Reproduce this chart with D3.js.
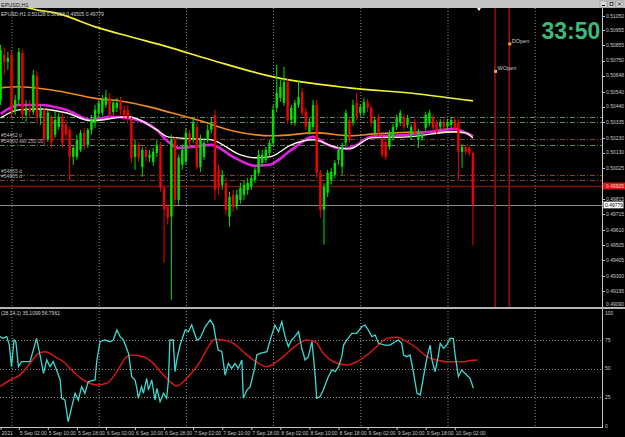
<!DOCTYPE html>
<html>
<head>
<meta charset="utf-8">
<script src="https://cdn.jsdelivr.net/npm/d3@7/dist/d3.min.js"></script>
<style>
  html, body { margin: 0; padding: 0; background: #000; }
  svg { display: block; font-family: "Liberation Sans", Arial, sans-serif; }
</style>
</head>
<body>
<div id="chart"></div>
<script>
// ---- data ----
const symbolTitle = "EPUSD,H1";
const infoText = "EPUSD,H1  0.50128 0.50138 0.49505 0.49779";
const stochText = "(28,14,1) 35.1099 56.7961";
const timerText = "33:50";

// hourly bars, first bar is at hour -3 (hours after 5 Sep 00:00); [open, high, low, close]
const firstHour = -3;
const candles = [
  [0.50485,0.50855,0.50451,0.50822],[0.50788,0.50835,0.50653,0.50741],[0.50741,0.50808,0.50687,0.50768],
  [0.50788,0.50822,0.50364,0.50404],[0.50418,0.50519,0.50384,0.50485],[0.50485,0.50835,0.50451,0.50808],
  [0.50801,0.50822,0.50350,0.50384],[0.50384,0.50485,0.50337,0.50431],[0.50431,0.50485,0.50364,0.50404],
  [0.50404,0.50687,0.50384,0.50653],[0.50647,0.50673,0.50337,0.50364],[0.50364,0.50451,0.50317,0.50418],
  [0.50418,0.50431,0.50182,0.50216],[0.50216,0.50418,0.50202,0.50398],[0.50364,0.50384,0.50162,0.50196],
  [0.50250,0.50404,0.50229,0.50350],[0.50303,0.50398,0.50283,0.50371],[0.50371,0.50398,0.50162,0.50196],
  [0.50317,0.50350,0.50216,0.50250],[0.50283,0.50303,0.49946,0.50101],[0.50101,0.50182,0.50048,0.50162],
  [0.50101,0.50250,0.50081,0.50216],[0.50148,0.50283,0.50135,0.50263],[0.50263,0.50297,0.50148,0.50182],
  [0.50182,0.50297,0.50162,0.50283],[0.50283,0.50384,0.50250,0.50350],[0.50330,0.50451,0.50297,0.50418],
  [0.50398,0.50485,0.50364,0.50465],[0.50398,0.50519,0.50377,0.50485],[0.50451,0.50552,0.50431,0.50505],
  [0.50498,0.50532,0.50364,0.50384],[0.50404,0.50485,0.50384,0.50465],[0.50431,0.50498,0.50404,0.50465],
  [0.50485,0.50505,0.50384,0.50418],[0.50418,0.50451,0.50350,0.50384],[0.50418,0.50451,0.50337,0.50364],
  [0.50350,0.50371,0.50061,0.50095],[0.50101,0.50216,0.50014,0.50182],[0.50182,0.50202,0.50068,0.50095],
  [0.50034,0.50169,0.49967,0.50148],[0.50148,0.50169,0.50068,0.50101],[0.50095,0.50148,0.50068,0.50115],
  [0.50068,0.50162,0.50041,0.50135],[0.50128,0.50216,0.50101,0.50182],[0.50182,0.50202,0.49866,0.49893],
  [0.49893,0.49913,0.49388,0.49745],[0.49765,0.49785,0.49644,0.49691],[0.49698,0.50250,0.49139,0.50216],
  [0.50216,0.50236,0.49765,0.49812],[0.49812,0.50115,0.49778,0.50095],[0.50048,0.50182,0.50014,0.50148],
  [0.50068,0.50297,0.50048,0.50263],[0.50263,0.50283,0.50162,0.50196],[0.50216,0.50364,0.50196,0.50330],
  [0.50303,0.50330,0.50014,0.50034],[0.50034,0.50250,0.50000,0.50216],[0.50101,0.50229,0.50081,0.50196],
  [0.50216,0.50317,0.50196,0.50283],[0.50283,0.50364,0.50263,0.50330],[0.50384,0.50418,0.49812,0.49879],
  [0.50014,0.50048,0.49846,0.49900],[0.49913,0.50014,0.49879,0.49980],[0.49926,0.49960,0.49711,0.49745],
  [0.49698,0.49866,0.49630,0.49832],[0.49846,0.49879,0.49731,0.49765],[0.49778,0.49879,0.49745,0.49846],
  [0.49812,0.49926,0.49785,0.49893],[0.49846,0.49946,0.49812,0.49913],[0.49879,0.49960,0.49846,0.49926],
  [0.49900,0.49980,0.49879,0.49960],[0.49946,0.50034,0.49926,0.50014],[0.49994,0.50148,0.49974,0.50115],
  [0.50061,0.50148,0.50041,0.50115],[0.50081,0.50169,0.50061,0.50148],[0.50128,0.50216,0.50108,0.50196],
  [0.50196,0.50451,0.50175,0.50418],[0.50431,0.50721,0.50404,0.50532],[0.50498,0.50620,0.50472,0.50572],
  [0.50465,0.50707,0.50445,0.50606],[0.50606,0.50633,0.50323,0.50350],[0.50350,0.50451,0.50317,0.50431],
  [0.50330,0.50485,0.50310,0.50465],[0.50451,0.50620,0.50431,0.50505],[0.50539,0.50566,0.50377,0.50398],
  [0.50404,0.50431,0.50283,0.50303],[0.50270,0.50364,0.50250,0.50337],[0.50303,0.50485,0.50283,0.50451],
  [0.50451,0.50485,0.49960,0.49994],[0.49994,0.50014,0.49691,0.49745],[0.49745,0.49926,0.49509,0.49900],
  [0.49859,0.50014,0.49832,0.49994],[0.49946,0.50028,0.49913,0.50000],[0.49980,0.50081,0.49960,0.50061],
  [0.50081,0.50169,0.50048,0.50148],[0.50034,0.50196,0.49980,0.50169],[0.50196,0.50418,0.50169,0.50398],
  [0.50350,0.50371,0.50196,0.50216],[0.50337,0.50485,0.50310,0.50451],[0.50465,0.50532,0.50350,0.50371],
  [0.50398,0.50458,0.50377,0.50438],[0.50398,0.50498,0.50377,0.50472],[0.50472,0.50492,0.50404,0.50431],
  [0.50431,0.50451,0.50303,0.50330],[0.50263,0.50371,0.50243,0.50350],[0.50371,0.50391,0.50236,0.50263],
  [0.50216,0.50236,0.50095,0.50115],[0.50202,0.50229,0.50081,0.50101],[0.50169,0.50283,0.50148,0.50263],
  [0.50229,0.50323,0.50209,0.50303],[0.50303,0.50384,0.50283,0.50364],[0.50330,0.50418,0.50310,0.50398],
  [0.50371,0.50391,0.50283,0.50303],[0.50317,0.50384,0.50297,0.50364],[0.50236,0.50323,0.50216,0.50303],
  [0.50337,0.50357,0.50250,0.50270],[0.50216,0.50290,0.50162,0.50270],[0.50229,0.50270,0.50209,0.50250],
  [0.50297,0.50404,0.50276,0.50384],[0.50330,0.50418,0.50310,0.50398],[0.50364,0.50384,0.50276,0.50297],
  [0.50330,0.50350,0.50250,0.50270],[0.50303,0.50357,0.50283,0.50337],[0.50337,0.50357,0.50283,0.50303],
  [0.50303,0.50357,0.50283,0.50337],[0.50317,0.50371,0.50297,0.50350],[0.50350,0.50371,0.50276,0.50297],
  [0.50337,0.50357,0.49946,0.50135],[0.50135,0.50189,0.50028,0.50169],[0.50169,0.50182,0.50115,0.50135],
  [0.50162,0.50175,0.50108,0.50128],[0.50128,0.50138,0.49505,0.49779]
];

// moving averages, [hour, price] read at turning points
const maYellow = [[-3,0.51158],[7,0.51091],[12,0.51071],[24,0.50970],[33,0.50909],[43,0.50842],
  [55,0.50754],[72,0.50640],[93,0.50566],[112,0.50525],[127,0.50478]];
const maOrange = [[-3,0.50566],[2,0.50573],[11,0.50552],[24,0.50492],[30,0.50478],[38,0.50438],
  [44,0.50398],[52,0.50344],[61,0.50276],[72,0.50243],[84,0.50263],[93,0.50243],[100,0.50256],
  [118,0.50270],[125,0.50263],[127,0.50243]];
const maMagenta = [[-3,0.50391],[2,0.50451],[8,0.50451],[15,0.50418],[22,0.50350],[27,0.50371],
  [32,0.50364],[40,0.50283],[42,0.50229],[46,0.50162],[50,0.50169],[55,0.50182],[61,0.50101],
  [67,0.50041],[71,0.50048],[77,0.50148],[83,0.50236],[86,0.50196],[91,0.50155],[94,0.50169],
  [99,0.50236],[109,0.50250],[115,0.50270],[122,0.50290],[125,0.50263],[127,0.50236]];
const maWhite = [[-3,0.50364],[2,0.50418],[8,0.50424],[15,0.50398],[22,0.50344],[32,0.50371],
  [40,0.50283],[43,0.50236],[50,0.50223],[55,0.50216],[63,0.50115],[67,0.50095],[71,0.50101],
  [77,0.50182],[83,0.50216],[89,0.50169],[93,0.50155],[99,0.50229],[109,0.50236],[122,0.50270],
  [125,0.50263],[127,0.50229]];

// horizontal order / level lines
const levelPrices = [0.50371, 0.50337, 0.50223, 0.50182, 0.49980, 0.49946];
const levelKinds  = ["open", "open", "stop", "open", "stop", "stop"];
const levelTexts  = ["", "", "#54462 d", "#54900 sell 250.00", "#54865 d", "#54905 d"];
const alertPrice = 0.49905;
const bidPrice = 0.49779;

// week / day open markers
const openMarks = [
  { name: "WOpen", hour: 133.1, price: 0.50677 },
  { name: "DOpen", hour: 137.0, price: 0.50862 }
];

// axes
const priceTicks = [0.51050,0.50955,0.50855,0.50750,0.50648,0.50540,0.50440,0.50335,0.50230,
  0.50130,0.50025,0.49815,0.49715,0.49610,0.49505,0.49405,0.49300,0.49195,0.49090];
const stochTicks = [100, 75, 50, 25, 0];
const stochLevels = [75, 50, 25];
const dayHours = [0, 24, 48, 72, 96, 120, 144];
const timeLabelHours = [-3, 2, 10, 18, 26, 34, 42, 50, 58, 66, 74, 82, 90, 98, 106, 114, 122];
const timeLabels = ["2021", "5 Sep 02:00", "5 Sep 10:00", "5 Sep 18:00", "6 Sep 02:00", "6 Sep 10:00",
  "6 Sep 18:00", "7 Sep 02:00", "7 Sep 10:00", "7 Sep 18:00", "8 Sep 02:00", "8 Sep 10:00",
  "8 Sep 18:00", "9 Sep 02:00", "9 Sep 10:00", "9 Sep 18:00", "10 Sep 02:00"];

// stochastic, [hour, value]
const stochMain = [[-3.2,77.7],[-2.3,76.2],[-1.3,77.7],[-0.6,70.4],[0,51.6],[0.7,74.8],[1.2,73.3],
  [1.9,51.6],[2.8,55.9],[5.1,55.9],[6.9,76.2],[8.3,54.5],[8.8,45.8],[9.7,57.4],[10.6,51.6],[11.5,55.9],
  [12.4,48.7],[13.4,40],[13.8,24.1],[14.7,22.6],[15.6,3.7],[16.6,16.8],[17.5,28.4],[18.4,22.6],
  [19.3,34.2],[20.2,28.4],[21.1,38.5],[23,40],[23.5,57.4],[24.4,73.3],[25.7,74.8],[27.1,73.3],[28,74.8],
  [29,83.5],[29.9,77.7],[30.8,74.8],[32.2,63.2],[33.1,42.9],[34,40],[34.5,32.8],[34.9,24.1],[35.8,34.2],
  [36.3,28.4],[37.2,41.4],[37.7,31.3],[38.6,40],[39.5,22.6],[40,32.8],[40.9,21.2],[41.8,28.4],
  [42.7,24.1],[43.2,40],[43.6,74.8],[44.5,74.8],[45,47.2],[45.5,57.4],[46.4,70.4],[47.8,83.5],[48.7,82],
  [49.6,87.8],[51,74.8],[51.9,76.2],[53.3,86.3],[54.7,92.2],[55.6,87.8],[56.3,74.8],[56.9,66.1],
  [57.9,64.6],[58.8,44.3],[59.7,54.5],[60.6,50.1],[61.5,54.5],[62.4,50.1],[63.4,57.4],[63.8,24.1],
  [64.8,31.3],[65.7,34.2],[67,51.6],[67.5,61.7],[68.4,63.2],[70.3,64.6],[71.2,74.8],[72.5,87.8],
  [73.5,82],[74.4,90.7],[75.3,77.7],[76.2,69],[77.1,74.8],[78,77.7],[79,82],[79.9,67.6],[80.8,57.4],
  [81.7,60.3],[82.7,73.3],[83.1,60.3],[83.6,42.9],[84,24.1],[84.9,25.5],[85.8,31.3],[87.2,42.9],
  [88.2,48.7],[89.1,47.2],[90,51.6],[90.9,60.3],[91.4,70.4],[92.3,74.8],[93.7,80.6],[95,80.6],
  [96.4,86.3],[97.3,87.8],[98.2,83.5],[99.2,77.7],[100.1,79.1],[101,71.9],[102.8,70.4],[104.2,70.4],
  [105.6,73.3],[106.5,74.8],[107.4,71.9],[107.9,61.7],[108.8,60.3],[109.7,61.7],[110.6,47.2],
  [111.6,28.4],[112.5,27],[113.4,42.9],[114.3,58.9],[115.2,70.4],[115.7,57.4],[116.6,47.2],[117.5,61.7],
  [118,71.9],[118.9,67.6],[119.8,70.4],[120.7,76.2],[121.6,76.2],[122.1,61.7],[123,42.9],[123.9,48.7],
  [125.3,44.3],[126.2,41.4],[127.1,33]];
const stochSignal = [[-3.2,34.2],[-0.4,40],[2.3,44.3],[5.1,54.5],[7.4,63.2],[9.2,64.6],[12,60.3],
  [14.3,55.9],[17,47.2],[19.8,40],[23.5,35.7],[26.2,37.1],[29,47.2],[31.3,58.9],[33.1,61.7],[36.3,60.3],
  [39,54.5],[41.8,44.3],[43.6,38.5],[45.5,34.8],[48.2,41.4],[51.9,56],[54,68],[56,75.4],[58.3,74.8],
  [61.1,71.9],[63.8,64.6],[66.6,57.4],[70.3,51.6],[73,55.9],[75.8,63.2],[78.5,70.4],[81.3,74.8],
  [83.6,73.3],[85.8,63.2],[88.6,55.9],[92.3,53],[95,55.9],[97.8,61.7],[100.5,69],[103.3,76.2],
  [106.1,77.1],[108.8,73.3],[111.6,67.6],[114.3,60.3],[117.1,57.4],[119.8,55.9],[122.6,55.9],
  [124.4,55.9],[125.8,56.8],[128.3,57.4]];

// ---- layout ----
const width = 625, height = 437;
const chartRight = 602, titleH = 8, mainBottom = 307, subTop = 309, subBottom = 427;

const svg = d3.select("#chart").append("svg")
  .attr("width", width).attr("height", height);

svg.append("rect").attr("width", width).attr("height", height).attr("fill", "#000");

const x = d3.scaleLinear().domain([0, 24]).range([11.5, 98.7]);
const y = d3.scaleLinear().domain([0.49090, 0.51050]).range([307, 16]);
const ys = d3.scaleLinear().domain([0, 100]).range([426, 311]);

const defs = svg.append("defs");
defs.append("clipPath").attr("id", "clipMain").append("rect")
  .attr("x", 0).attr("y", titleH).attr("width", chartRight).attr("height", mainBottom - titleH);
defs.append("clipPath").attr("id", "clipSub").append("rect")
  .attr("x", 0).attr("y", subTop).attr("width", chartRight).attr("height", subBottom - subTop);

const main = svg.append("g").attr("clip-path", "url(#clipMain)");
const sub = svg.append("g").attr("clip-path", "url(#clipSub)");

// day separators (dotted)
[main, sub].forEach(g => {
  g.selectAll(".vgrid").data(dayHours).enter().append("line")
    .attr("x1", d => x(d) + 0.5).attr("x2", d => x(d) + 0.5)
    .attr("y1", titleH).attr("y2", subBottom)
    .attr("stroke", "#8a8a8a").attr("stroke-width", 1).attr("stroke-dasharray", "1,2");
});

// level lines
const levelColor = { open: "#5e8a5e", stop: "#8a3a3a" };
main.selectAll(".level").data(levelPrices).enter().append("line")
  .attr("x1", 0).attr("x2", chartRight)
  .attr("y1", d => Math.round(y(d)) + 0.5).attr("y2", d => Math.round(y(d)) + 0.5)
  .attr("stroke", (d, i) => levelColor[levelKinds[i]])
  .attr("stroke-width", 1).attr("stroke-dasharray", "5,2,1,2");

main.selectAll(".levelText").data(levelPrices).enter().append("text")
  .attr("x", 1).attr("y", d => y(d) - 1.5)
  .attr("font-size", 5).attr("fill", "#b8b8b8")
  .text((d, i) => levelTexts[i]);

main.append("line").attr("x1", 0).attr("x2", chartRight)
  .attr("y1", Math.round(y(alertPrice)) + 0.5).attr("y2", Math.round(y(alertPrice)) + 0.5)
  .attr("stroke", "#7a1010").attr("stroke-width", 1.5);
main.append("line").attr("x1", 0).attr("x2", chartRight)
  .attr("y1", Math.round(y(bidPrice)) + 0.5).attr("y2", Math.round(y(bidPrice)) + 0.5)
  .attr("stroke", "#8c8c8c").attr("stroke-width", 1);

// moving averages
const maLine = d3.line().x(d => x(d[0])).y(d => y(d[1])).curve(d3.curveMonotoneX);
[[maYellow, "#f2f230", 1.6], [maOrange, "#f08a1c", 1.6], [maMagenta, "#e020e0", 2.6], [maWhite, "#fff4e6", 1.4]]
  .forEach(([data, color, w]) => {
    main.append("path").datum(data).attr("d", maLine)
      .attr("fill", "none").attr("stroke", color).attr("stroke-width", w);
  });

// candles
const bodyW = 2.4;
const bars = main.selectAll(".bar").data(candles).enter().append("g");
bars.append("line")
  .attr("x1", (d, i) => x(firstHour + i)).attr("x2", (d, i) => x(firstHour + i))
  .attr("y1", d => y(d[1])).attr("y2", d => y(d[2]))
  .attr("stroke", d => d[3] >= d[0] ? "#00e000" : "#f00000").attr("stroke-width", 1);
bars.append("rect")
  .attr("x", (d, i) => x(firstHour + i) - bodyW / 2)
  .attr("y", d => y(Math.max(d[0], d[3])))
  .attr("width", bodyW)
  .attr("height", d => Math.max(1, Math.abs(y(d[0]) - y(d[3]))))
  .attr("fill", d => d[3] >= d[0] ? "#00e000" : "#f00000");

// week/day open verticals and markers
main.selectAll(".openLine").data(openMarks).enter().append("line")
  .attr("x1", d => x(d.hour)).attr("x2", d => x(d.hour))
  .attr("y1", titleH).attr("y2", mainBottom)
  .attr("stroke", "#a01010").attr("stroke-width", 1.5);
main.selectAll(".openDot").data(openMarks).enter().append("rect")
  .attr("x", d => x(d.hour) - 1).attr("y", d => y(d.price) - 1.5)
  .attr("width", 3).attr("height", 3).attr("fill", "#f5a623");
main.selectAll(".openText").data(openMarks).enter().append("text")
  .attr("x", d => x(d.hour) + 2.5).attr("y", d => y(d.price) - 1)
  .attr("font-size", 5.5).attr("fill", "#c8c8c8").text(d => d.name);

// chart shift marker
main.append("path").attr("d", "M477,8 L481,8 L479,11 Z").attr("fill", "#fff");

// info texts
main.append("text").attr("x", 1).attr("y", 15.5).attr("font-size", 5).attr("fill", "#d0d0d0").text(infoText);
svg.append("text").attr("x", 541.5).attr("y", 38.5).attr("font-size", 23).attr("font-weight", "bold")
  .attr("fill", "#3cb878").text(timerText);

// price axis
const axisG = svg.append("g");
axisG.append("line").attr("x1", chartRight + 0.5).attr("x2", chartRight + 0.5)
  .attr("y1", titleH).attr("y2", subBottom).attr("stroke", "#c8c8c8");
axisG.selectAll(".pt").data(priceTicks).enter().append("line")
  .attr("x1", chartRight).attr("x2", chartRight + 3)
  .attr("y1", d => Math.round(y(d)) + 0.5).attr("y2", d => Math.round(y(d)) + 0.5)
  .attr("stroke", "#c8c8c8");
axisG.selectAll(".ptl").data(priceTicks).enter().append("text")
  .attr("x", chartRight + 4).attr("y", d => Math.min(y(d), 304) + 1.8)
  .attr("font-size", 5).attr("fill", "#c8c8c8").text(d => d.toFixed(5));

axisG.append("rect").attr("x", chartRight + 1).attr("y", y(alertPrice) - 3.5)
  .attr("width", 22).attr("height", 7).attr("fill", "#e01010");
axisG.append("text").attr("x", chartRight + 4).attr("y", y(alertPrice) + 1.8)
  .attr("font-size", 5).attr("fill", "#ffd0d0").text(alertPrice.toFixed(5));
axisG.append("rect").attr("x", chartRight + 1.5).attr("y", y(bidPrice) - 3)
  .attr("width", 20).attr("height", 6.5).attr("fill", "#fff").attr("stroke", "#888").attr("stroke-width", 0.5);
axisG.append("text").attr("x", chartRight + 3).attr("y", y(bidPrice) + 2)
  .attr("font-size", 5).attr("fill", "#000").text(bidPrice.toFixed(5));

// pane separator
svg.append("rect").attr("x", 0).attr("y", mainBottom).attr("width", width).attr("height", 2).attr("fill", "#b4b4b4");

// stochastic pane
sub.selectAll(".lvl").data(stochLevels).enter().append("line")
  .attr("x1", 0).attr("x2", chartRight)
  .attr("y1", d => Math.round(ys(d)) + 0.5).attr("y2", d => Math.round(ys(d)) + 0.5)
  .attr("stroke", "#8a8a8a").attr("stroke-dasharray", "1,2");
const stLine = d3.line().x(d => x(d[0])).y(d => ys(d[1]));
sub.append("path").datum(stochSignal).attr("d", stLine.curve(d3.curveMonotoneX))
  .attr("fill", "none").attr("stroke", "#d01818").attr("stroke-width", 1.5);
sub.append("path").datum(stochMain).attr("d", d3.line().x(d => x(d[0])).y(d => ys(d[1])))
  .attr("fill", "none").attr("stroke", "#40d8d0").attr("stroke-width", 1.3);
sub.append("text").attr("x", 1).attr("y", 315).attr("font-size", 5).attr("fill", "#d0d0d0").text(stochText);

axisG.selectAll(".st").data(stochTicks).enter().append("text")
  .attr("x", chartRight + 3).attr("y", d => Math.max(ys(d), 313) + 1.8)
  .attr("font-size", 5).attr("fill", "#c8c8c8").text(d => d);

// time axis
svg.append("line").attr("x1", 0).attr("x2", chartRight + 1).attr("y1", subBottom + 0.5).attr("y2", subBottom + 0.5)
  .attr("stroke", "#c8c8c8");
svg.selectAll(".tt").data(timeLabelHours).enter().append("line")
  .attr("x1", d => x(d) + 0.5).attr("x2", d => x(d) + 0.5)
  .attr("y1", subBottom).attr("y2", subBottom + 3).attr("stroke", "#c8c8c8");
svg.selectAll(".tl").data(timeLabelHours).enter().append("text")
  .attr("x", d => x(d) + 1).attr("y", 435)
  .attr("font-size", 5).attr("fill", "#c8c8c8").text((d, i) => timeLabels[i]);

// title bar
svg.append("rect").attr("x", 0).attr("y", 0).attr("width", width).attr("height", titleH).attr("fill", "#c4c4c4");
svg.append("text").attr("x", 1).attr("y", 6.5).attr("font-size", 5.5).attr("fill", "#202020").text(symbolTitle);
["min", "max", "close"].forEach((b, i) => {
  const bx = 600 + i * 8;
  svg.append("rect").attr("x", bx).attr("y", 1).attr("width", 7).attr("height", 6.5)
    .attr("fill", "#d8d8d8").attr("stroke", "#808080").attr("stroke-width", 0.5);
  if (b === "min") svg.append("line").attr("x1", bx + 2).attr("x2", bx + 5).attr("y1", 5.5).attr("y2", 5.5).attr("stroke", "#000");
  if (b === "max") svg.append("rect").attr("x", bx + 2).attr("y", 2.5).attr("width", 3).attr("height", 3).attr("fill", "none").attr("stroke", "#000").attr("stroke-width", 0.7);
  if (b === "close") svg.append("path").attr("d", `M${bx + 2},2.5 L${bx + 5},5.5 M${bx + 5},2.5 L${bx + 2},5.5`).attr("stroke", "#000").attr("stroke-width", 0.8);
});
</script>
</body>
</html>
